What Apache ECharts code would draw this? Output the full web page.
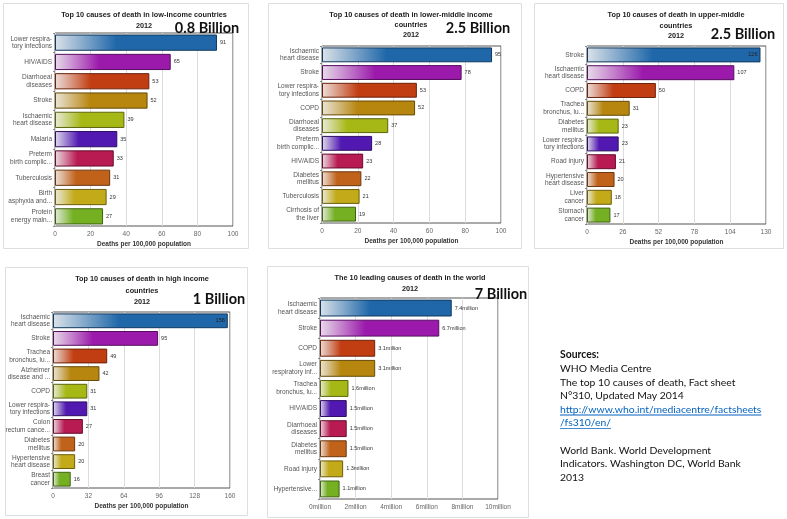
<!DOCTYPE html>
<html><head><meta charset="utf-8">
<script src="https://cdn.jsdelivr.net/npm/echarts@6/dist/echarts.min.js"></script>
<style>html,body{margin:0;padding:0;background:#fff}#c{width:787px;height:519px}</style>
</head><body><div id="c"></div>
<script>
// ---- DATA ----
const lowCats = ['Lower respira-\ntory infections','HIV/AIDS','Diarrhoeal\ndiseases','Stroke','Ischaemic\nheart disease','Malaria','Preterm\nbirth complic...','Tuberculosis','Birth\nasphyxia and...','Protein\nenergy maln...'];
const lowVals = [91,65,53,52,39,35,33,31,29,27];

const lowerMidCats = ['Ischaemic\nheart disease','Stroke','Lower respira-\ntory infections','COPD','Diarrhoeal\ndiseases','Preterm\nbirth complic...','HIV/AIDS','Diabetes\nmellitus','Tuberculosis','Cirrhosis of\nthe liver'];
const lowerMidVals = [95,78,53,52,37,28,23,22,21,19];

const upperMidCats = ['Stroke','Ischaemic\nheart disease','COPD','Trachea\nbronchus, lu...','Diabetes\nmellitus','Lower respira-\ntory infections','Road injury','Hypertensive\nheart disease','Liver\ncancer','Stomach\ncancer'];
const upperMidVals = [126,107,50,31,23,23,21,20,18,17];

const highCats = ['Ischaemic\nheart disease','Stroke','Trachea\nbronchus, lu...','Alzheimer\ndisease and ...','COPD','Lower respira-\ntory infections','Colon\nrectum cance...','Diabetes\nmellitus','Hypertensive\nheart disease','Breast\ncancer'];
const highVals = [158,95,49,42,31,31,27,20,20,16];

const worldCats = ['Ischaemic\nheart disease','Stroke','COPD','Lower\nrespiratory inf...','Trachea\nbronchus, lu...','HIV/AIDS','Diarrhoeal\ndiseases','Diabetes\nmellitus','Road injury','Hypertensive...'];
const worldVals = [7.4,6.7,3.1,3.1,1.6,1.5,1.5,1.5,1.3,1.1]; // millions

const axisMax = [100,100,130,160,10];
const axisStep = [20,20,26,32,2];
const titles = [
  'Top 10 causes of death in low-income countries\n2012',
  'Top 10 causes of death in lower-middle income\ncountries\n2012',
  'Top 10 causes of death in upper-middle\ncountries\n2012',
  'Top 10 causes of death in high income\ncountries\n2012',
  'The 10 leading causes of death in the world\n2012'
];
const populations = ['0.8 Billion','2.5 Billion','2.5 Billion','1 Billion','7 Billion'];
const xAxisTitle = 'Deaths per 100,000 population';
const sourceLines = [
  ['Sources:', 'bold'],
  ['WHO Media Centre', ''],
  ['The top 10 causes of death, Fact sheet', ''],
  ['N°310, Updated May 2014', ''],
  ['http://www.who.int/mediacentre/factsheets', 'link'],
  ['/fs310/en/', 'link'],
  ['', ''],
  ['World Bank. World Development', ''],
  ['Indicators. Washington DC, World Bank', ''],
  ['2013', '']
];

// ---- STYLE / LAYOUT ----
const barColors = ['#1f67a9','#9b1aab','#c13e12','#b7860f','#a6b816','#5119b2','#b81a52','#c1621b','#c2aa19','#74b021'];
const panels = [
  {frame:[3,3,245,245], grid:[55,33,233,226], title:[144,15], lh:11, pop:[207,28]},
  {frame:[268,3,253,245], grid:[322,46,501,223], title:[411,15], lh:10, pop:[478,28]},
  {frame:[534,3,249,245], grid:[587,46,766,224], title:[676,15], lh:10.5, pop:[743,34]},
  {frame:[5,267,242,248], grid:[53,312,230,488], title:[142,279], lh:11.5, pop:[219,299]},
  {frame:[267,266,261,251], grid:[320,298,498,499], title:[410,278], lh:11, pop:[501,294]}
];
const catsAll = [lowCats, lowerMidCats, upperMidCats, highCats, worldCats];
const valsAll = [lowVals, lowerMidVals, upperMidVals, highVals, worldVals];

function mix(hex, t) { // t: 0 -> light gray-white, 1 -> color
  const n = parseInt(hex.slice(1),16);
  const r=(n>>16)&255,g=(n>>8)&255,b=n&255;
  const f=c=>Math.round(240+(c-240)*t);
  return 'rgb('+f(r)+','+f(g)+','+f(b)+')';
}
function darker(hex, k) {
  const n = parseInt(hex.slice(1),16);
  const r=(n>>16)&255,g=(n>>8)&255,b=n&255;
  return 'rgb('+Math.round(r*k)+','+Math.round(g*k)+','+Math.round(b*k)+')';
}

const chart = echarts.init(document.getElementById('c'), null, {renderer:'canvas'});
const FONT = 'Liberation Sans, Arial, sans-serif';

const grids=[], xAxes=[], yAxes=[], series=[], graphics=[];
panels.forEach((p,i)=>{
  const [x1,y1,x2,y2]=p.grid;
  grids.push({left:x1, top:y1, width:x2-x1, height:y2-y1, show:true, backgroundColor:'#fff', borderColor:'#555', borderWidth:1, containLabel:false});
  xAxes.push({type:'value', gridIndex:i, min:0, max:axisMax[i], interval:axisStep[i],
    axisLine:{show:false}, axisTick:{show:false},
    splitLine:{show:true, lineStyle:{color:'#dcdcdc', width:1}},
    axisLabel:{fontSize:6.5, color:'#666', fontFamily:FONT, margin:5,
      formatter: i===4 ? '{value}million' : '{value}'},
    name: i===4 ? '' : xAxisTitle, nameLocation:'middle', nameGap:15,
    nameTextStyle:{fontSize:6.5, fontWeight:'bold', color:'#333', fontFamily:FONT}
  });
  yAxes.push({type:'category', gridIndex:i, inverse:true, data:catsAll[i],
    axisLine:{show:false}, axisTick:{show:true, length:2, lineStyle:{color:'#888'}},
    axisLabel:{fontSize:6.5, color:'#555', fontFamily:FONT, lineHeight:7.5, margin:3, align:'right'}
  });
  const max = axisMax[i];
  series.push({type:'bar', xAxisIndex:i, yAxisIndex:i, barCategoryGap:'16%',
    data: valsAll[i].map((v,j)=>({value:v,
      itemStyle:{
        color:new echarts.graphic.LinearGradient(0,0,1,0,[
          {offset:0, color:mix(barColors[j],0.1)},
          {offset:0.15, color:mix(barColors[j],0.45)},
          {offset:0.38, color:barColors[j]},
          {offset:1, color:barColors[j]}]),
        borderColor:darker(barColors[j],0.55), borderWidth:1
      },
      label: v/max>0.96 ? {position:'insideRight', color:'#222', distance:3} : {}
    })),
    label:{show:true, position:'right', fontSize:5.5, color:'#333', fontFamily:FONT, distance:3,
      formatter: i===4 ? '{c}million' : '{c}'},
    animation:false
  });
  graphics.push({type:'rect', shape:{x:p.frame[0]+0.5, y:p.frame[1]+0.5, width:p.frame[2], height:p.frame[3]},
    style:{fill:'none', stroke:'#dedede', lineWidth:1}, z:-10});
  graphics.push({type:'text', x:p.title[0], y:p.title[1]-p.lh/2,
    style:{text:titles[i], fill:'#222', font:'bold 7.3px '+FONT, align:'center', verticalAlign:'top', lineHeight:p.lh},
    z:10});
  graphics.push({type:'text', x:p.pop[0], y:p.pop[1],
    style:{text:populations[i], fill:'#111', font:'bold 14.5px Lato, sans-serif', align:'center', verticalAlign:'middle'},
    z:20});
});

// sources block
const srcX = 560, srcY0 = 355, srcLH = 13.6;
const mctx = document.createElement('canvas').getContext('2d');
sourceLines.forEach((ln,k)=>{
  if(!ln[0]) return;
  const font = (ln[1]==='bold'?'bold ':'')+'10.4px Lato, sans-serif';
  const y = srcY0 + k*srcLH;
  graphics.push({type:'text', x:srcX, y:y,
    style:{text:ln[0], fill: ln[1]==='link' ? '#0563c1' : '#111', font:font, align:'left', verticalAlign:'middle'}});
  if(ln[1]==='link'){
    mctx.font = font;
    const w = mctx.measureText(ln[0]).width;
    graphics.push({type:'rect', shape:{x:srcX, y:y+5.2, width:w, height:0.8}, style:{fill:'#0563c1'}});
  }
});

chart.setOption({
  animation:false,
  backgroundColor:'#fff',
  grid:grids, xAxis:xAxes, yAxis:yAxes, series:series,
  graphic:{elements:graphics}
});
</script></body></html>
